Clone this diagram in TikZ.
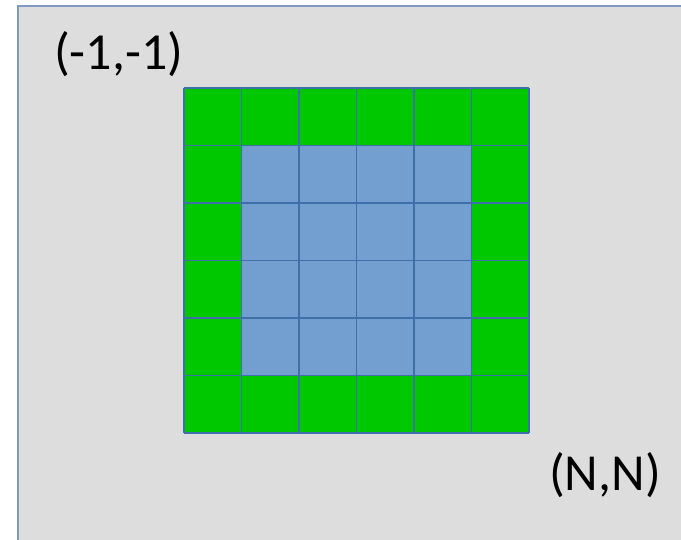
\documentclass[tikz,border=0pt]{standalone}
\usepackage{fontspec}
\setmainfont{Carlito}
\usepackage{tikz}
\usetikzlibrary{positioning}
\definecolor{panelgray}{HTML}{DDDDDD}
\definecolor{panelblue}{HTML}{8099C4}
\definecolor{cellgreen}{HTML}{00C800}
\definecolor{cellblue}{HTML}{729FCF}
\definecolor{gridblue}{HTML}{3F6FA8}

\begin{document}
\begin{tikzpicture}[x=1pt, y=-1pt,
    cornerlabel/.style={inner sep=0pt, anchor=base west,
      font=\fontsize{52}{60}\selectfont}]
  \useasboundingbox (0,0) rectangle (681,539);
  % background panel
  \fill[panelgray] (18,5.5) rectangle (700,560);
  \draw[panelblue, line width=2pt] (18,560) -- (18,5.5) -- (700,5.5);
  % halo cells and interior cells
  \fill[cellgreen] (184,88) rectangle (529,433);
  \fill[cellblue] (241.5,145.5) rectangle (471.5,375.5);
  \foreach \k in {0,...,6}{
    \draw[gridblue, line width=1.2pt] (184+57.5*\k,88) -- (184+57.5*\k,433);
    \draw[gridblue, line width=1.2pt] (184,88+57.5*\k) -- (529,88+57.5*\k);
  }
  % index labels
  \node[cornerlabel] (first) at (54,69) {(-1,-1)};
  \node[cornerlabel] (last) at (549,490) {(N,N)};
\end{tikzpicture}
\end{document}
